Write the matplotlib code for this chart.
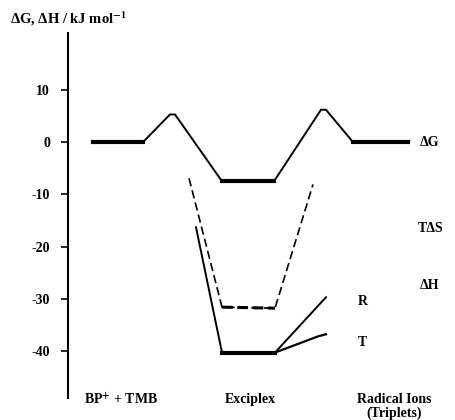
import matplotlib
matplotlib.use('Agg')
import matplotlib.pyplot as plt

plt.rcParams['font.family'] = ['Liberation Serif', 'DejaVu Serif']
plt.rcParams['font.weight'] = 'bold'
plt.rcParams['mathtext.fontset'] = 'stix'

# reaction coordinate (arbitrary units) and energies in kJ/mol
dG_x = [93, 143, 170, 175, 222, 274, 321, 326, 353, 408]
dG_y = [0, 0, 5.3, 5.3, -7.5, -7.5, 6.2, 6.2, 0, 0]
dG_flat = [(0, 1), (4, 5), (8, 9)]

TdS_x = [189, 222, 275, 313]
TdS_y = [-6.9, -31.6, -31.8, -8.1]

dH_x = [196, 222, 275]
dH_y = [-16.3, -40.3, -40.3]
R_x = [275, 326]
R_y = [-40.3, -29.7]
T_x = [275, 318, 326]
T_y = [-40.3, -37.2, -36.8]

yticks = [10, 0, -10, -20, -30, -40]
states = ['BP$^{+}$ + TMB', 'Exciplex', 'Radical Ions']
state_x = [121, 250, 394]

fig = plt.figure(figsize=(4.55, 4.2), dpi=100)
ax = fig.add_axes([68/455, 22/420, 1 - 68/455, (398 - 33)/420])
ax.set_xlim(68, 455)
ax.set_ylim(-49.0, 20.9)

# dG curve: thin slopes, thick levels
ax.plot(dG_x, dG_y, color='black', lw=1.4, solid_capstyle='butt')
for i, j in dG_flat:
    ax.plot(dG_x[i:j+1], dG_y[i:j+1], color='black', lw=3)

# T dS dashed
ax.plot(TdS_x, TdS_y, color='black', lw=1.2, ls=(0, (5, 2.5)))
ax.plot(TdS_x[1:3], TdS_y[1:3], color='black', lw=2.2, ls=(0, (3.5, 1.5)))

# dH solid
ax.plot(dH_x, dH_y, color='black', lw=1.4)
ax.plot(dH_x[1:3], dH_y[1:3], color='black', lw=3)
ax.plot(R_x, R_y, color='black', lw=1.4)
ax.plot(T_x, T_y, color='black', lw=1.6)

for s in ['top', 'right', 'bottom']:
    ax.spines[s].set_visible(False)
ax.spines['left'].set_linewidth(1.5)
ax.set_xticks([])
ax.set_yticks(yticks)
ax.set_yticklabels([str(v) for v in yticks], fontsize=10, fontweight='bold')
ax.tick_params(axis='y', direction='out', length=5, width=1.2, pad=8)

kw = dict(fontsize=10, fontweight='bold', clip_on=False)
ax.text(420, 0, 'ΔG', va='center', ha='left', **kw)
ax.text(418, -16.5, 'TΔS', va='center', ha='left', **kw)
ax.text(420, -27.5, 'ΔH', va='center', ha='left', **kw)
ax.text(358, -30.6, 'R', va='center', ha='left', **kw)
ax.text(358, -38.3, 'T', va='center', ha='left', **kw)

for sx, lab in zip(state_x, states):
    ax.text(sx, -49.2, lab, ha='center', va='center', **kw)
ax.text(state_x[2], -51.9, '(Triplets)', ha='center', va='center', **kw)

fig.text(10/455, 1 - 19/420, 'ΔG, ΔH / kJ mol$^{-1}$', ha='left', va='center',
         fontsize=10.5, fontweight='bold')

fig.savefig('out.png', dpi=100)
